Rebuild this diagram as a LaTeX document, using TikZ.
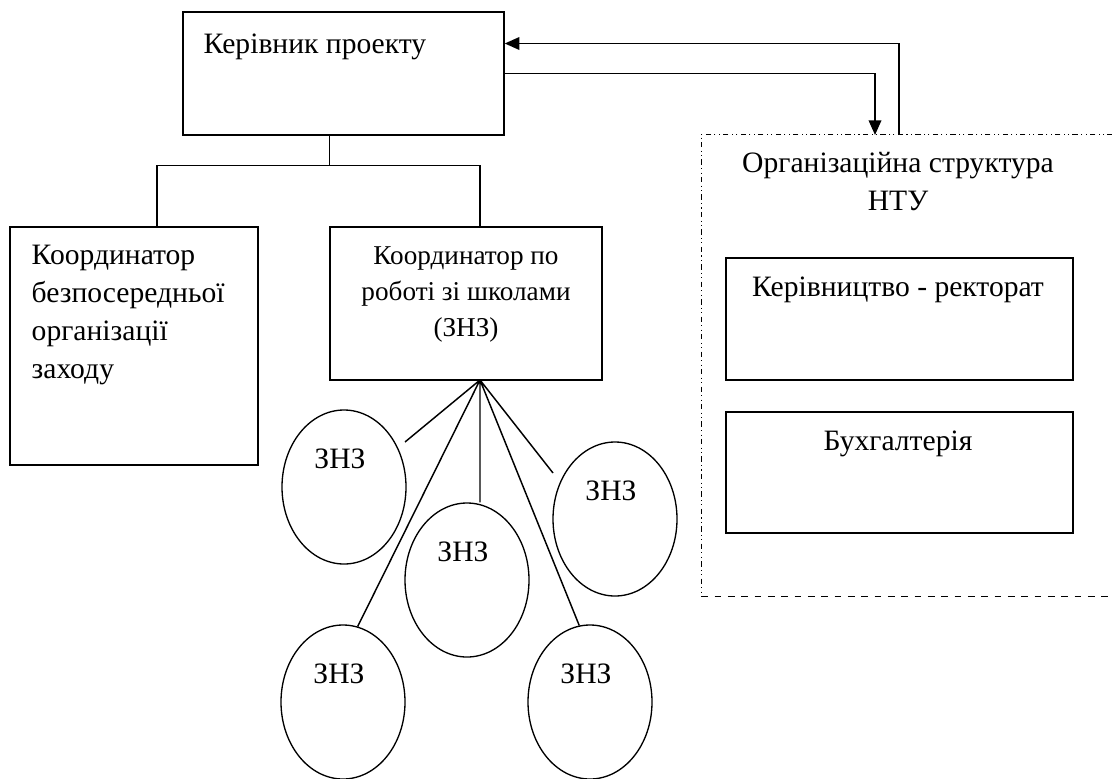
\documentclass[tikz,border=0pt]{standalone}
\usepackage{fontspec}
\setmainfont{Liberation Serif}
\usetikzlibrary{shapes.geometric,arrows.meta,fit}

\begin{document}
\begin{tikzpicture}[x=0.75pt, y=-0.75pt, line width=1.1pt, >={Triangle[length=11pt,width=9.5pt]},
	every node/.style={font=\fontsize{22.2}{28.3}\selectfont},
	box/.style={draw, inner sep=0pt},
	zone/.style={draw, ellipse, line width=1pt, minimum width=93pt, minimum height=115.5pt, inner sep=0pt},
	txt/.style={inner sep=0pt}]
	\useasboundingbox (0,0) rectangle (1112,778);
	% boxes
	\node[box, fit={(183,12) (504,135)}] (lead) {};
	\node[box, fit={(10,227) (258,465)}] (coordA) {};
	\node[box, fit={(330,227) (602,380)}] (coordB) {};
	\node[inner sep=0pt, fit={(702,135) (1112,596)}] (org) {};
	\node[box, fit={(726,258) (1073,380)}] (rect) {};
	\node[box, fit={(726,412) (1073,533)}] (acc) {};
	% texts (base = last line)
	\node[txt, anchor=base west] at (203,53) {Керівник проекту};
	\node[txt, anchor=base west, align=left] at (31,378) {Координатор\\безпосередньої\\організації\\заходу};
	\node[txt, anchor=base, align=center, font=\fontsize{20.4}{27}\selectfont] at (466,336) {Координатор по\\роботі зі школами\\(ЗНЗ)};
	\node[txt, anchor=base, align=center] at (898,210) {Організаційна структура\\НТУ};
	\node[txt, anchor=base] at (898,296) {Керівництво - ректорат};
	\node[txt, anchor=base] at (898,450) {Бухгалтерія};
	% frame
	\draw[line width=0.9pt, dash pattern=on 4pt off 2.5pt on 0.8pt off 2.5pt on 0.8pt off 2.5pt] (org.north east) -- (org.north west) -- (org.south west);
	\draw[line width=0.9pt, dash pattern=on 5pt off 5pt] (org.south west) -- (org.south east);
	% links
	\coordinate (in) at (875,135);
	\coordinate (out) at (899,135);
	\draw[->] (lead.east) -| (in);
	\draw[->] (out) |- ([yshift=22.5pt]lead.east);
	\draw (lead.south -| coordB.west) -- ++(0,30) coordinate (split);
	\coordinate (d1) at (157,227);
	\coordinate (d2) at (480,227);
	\draw (d1) |- (split) -| (d2);
	% schools
	\foreach \n/\x/\y in {1/344/487,2/467/580,3/615/519,4/343/702,5/590/702}{
		\node[zone] (z\n) at (\x,\y) {};
		\node[txt] at ([xshift=-3pt,yshift=21pt]z\n.center) {ЗНЗ};
	}
	\coordinate (fan) at (480,380);
	\coordinate (f1) at (405,442);
	\coordinate (f3) at (553,473);
	\draw (fan) -- (f1) (fan) -- (z4.79) (fan) -- (fan |- z2.north) (fan) -- (z5.98) (fan) -- (f3);
\end{tikzpicture}
\end{document}
